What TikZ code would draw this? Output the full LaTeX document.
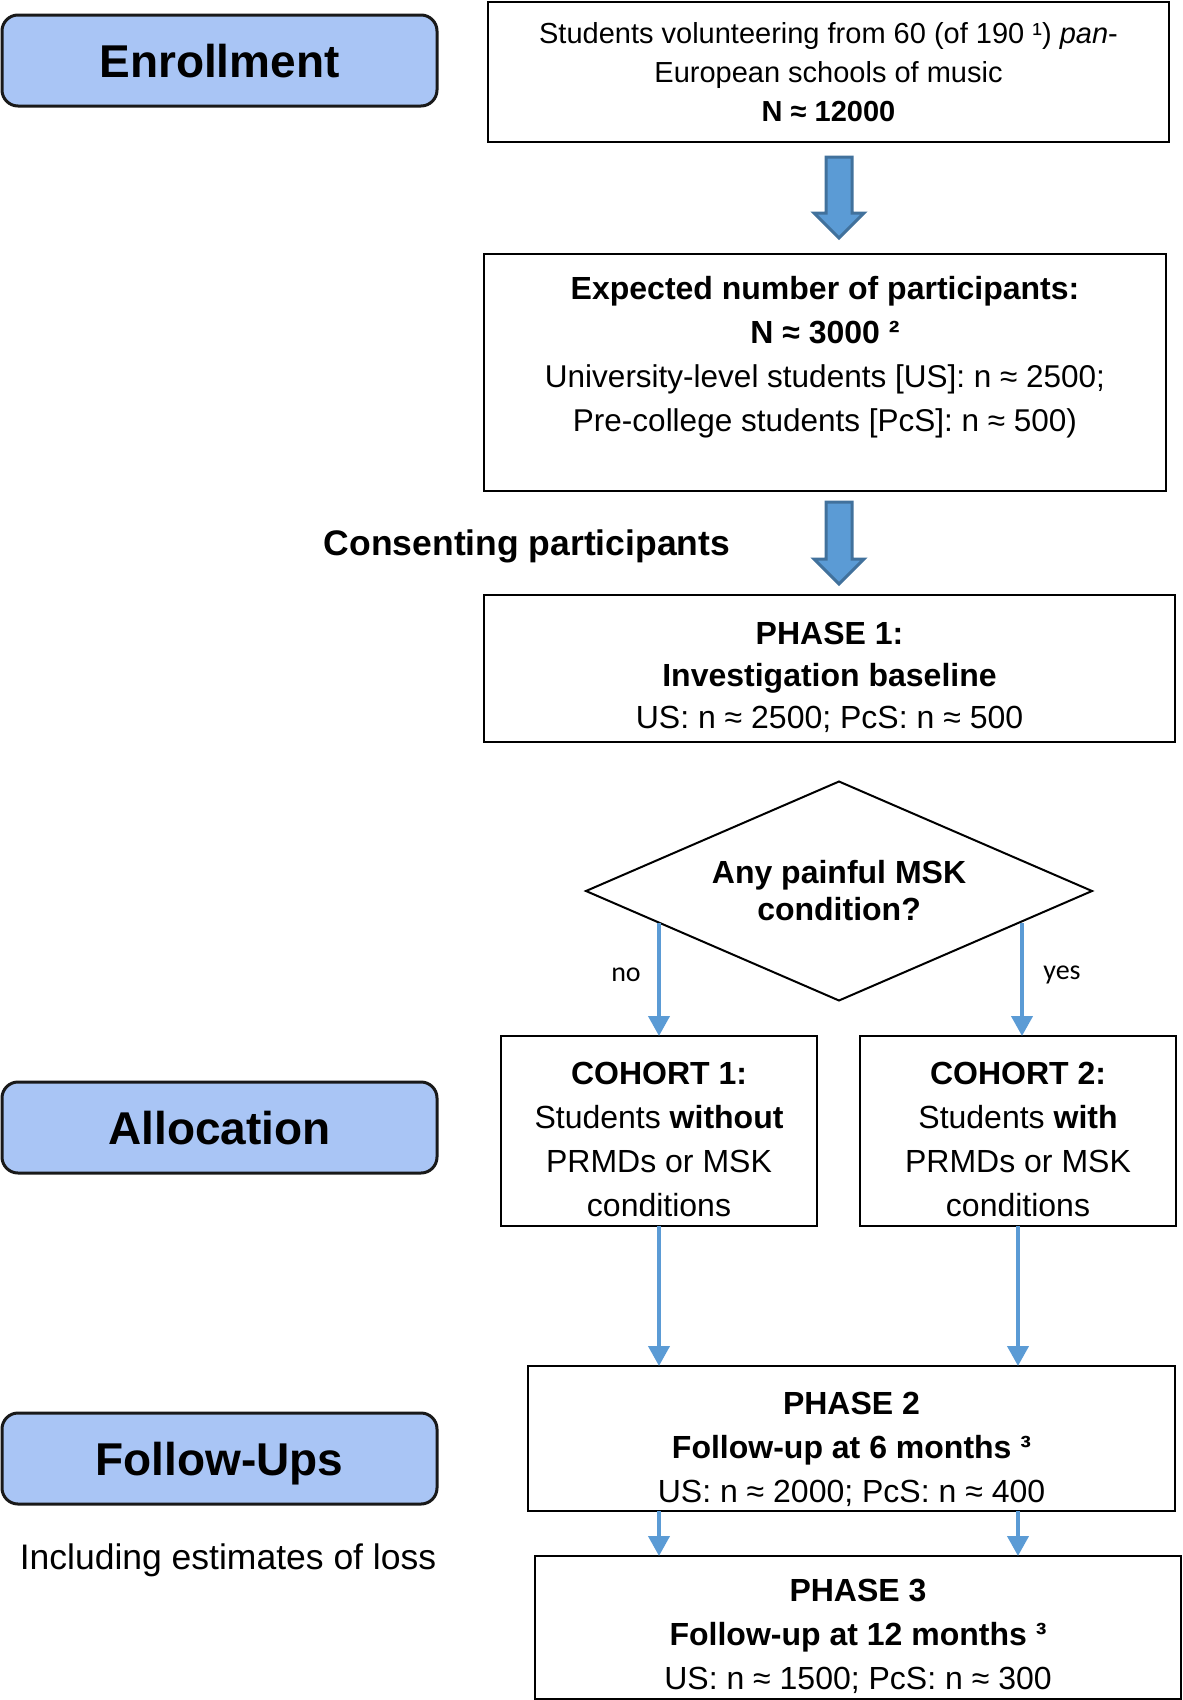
\documentclass[tikz,border=0pt]{standalone}
\usepackage{fontspec}
\setmainfont{Liberation Sans}
\newfontfamily\calfont{Carlito}
\usetikzlibrary{shapes.geometric,arrows.meta,calc}
\definecolor{lblue}{RGB}{169,197,245}
\definecolor{arrblue}{RGB}{91,155,213}
\definecolor{arrborder}{RGB}{65,113,156}
\newcommand{\fs}[2]{\fontsize{#1}{#2}\selectfont}
\newcommand{\blkarrow}[2]{\draw[blockarr] let \p1=(#1), \p2=(#2) in
  (\x1-13pt,\y1) -- (\x1+13pt,\y1) -- (\x1+13pt,\y2+25pt) -- (\x1+25pt,\y2+25pt)
  -- (\x1,\y2) -- (\x1-25pt,\y2+25pt) -- (\x1-13pt,\y2+25pt) -- cycle;}
\begin{document}
\begin{tikzpicture}[x=1pt,y=-1pt,
  every node/.style={outer sep=0pt},
  box/.style={draw=black, line width=2pt, inner sep=0pt, anchor=north west},
  lab/.style={draw=black!90, line width=3pt, fill=lblue, rounded corners=16pt, inner sep=0pt,
    anchor=north west, minimum width=435pt, minimum height=91pt,
    font=\bfseries\fs{46}{50}, text height=33pt, text depth=0pt},
  txt/.style={inner sep=0pt, align=center},
  thinarr/.style={draw=arrblue, line width=4pt, -{Triangle[width=21pt,length=20pt]}},
  blockarr/.style={fill=arrblue, draw=arrborder, line width=3pt, line join=miter},
  yn/.style={inner sep=0pt, font=\calfont\fs{28}{30}}
]
\useasboundingbox (0,0) rectangle (1183,1700);

% left stage labels
\node[lab] (enr) at (2,15) {Enrollment};
\node[lab] (alloc) at (2,1082) {Allocation};
\node[lab] (fol) at (2,1413) {Follow-Ups};
\node[txt, font=\fs{35.5}{40}] (incl) at (228,1560) {Including estimates of loss};

% main flow boxes
\node[box, minimum width=681pt, minimum height=140pt] (vol) at (488,2) {};
\node[txt, font=\fs{29}{39}] (voltxt) at (vol.center)
  {Students volunteering from 60 (of 190 ¹) \textit{pan}-\\European schools of music\\\textbf{N ≈ 12000}};

\node[box, minimum width=682pt, minimum height=237pt] (exp) at (484,254) {};
\node[txt, font=\fs{31.5}{44}] (exptxt) at (825,357)
  {\fs{32}{44}\textbf{Expected number of participants:}\\\fs{32}{44}\textbf{N ≈ 3000 ²}\\University-level students [US]: n ≈ 2500;\\Pre-college students [PcS]: n ≈ 500)};

\node[txt, font=\bfseries\fs{35.5}{40}] (cons) at (527,546) {Consenting participants};

\node[box, minimum width=691pt, minimum height=147pt] (ph1) at (484,595) {};
\node[txt, font=\fs{32}{42}] (ph1txt) at ($(ph1.center)+(0,9)$)
  {\textbf{PHASE 1:}\\\textbf{Investigation baseline}\\US: n ≈ 2500; PcS: n ≈ 500};

\node[draw=black, line width=2pt, diamond, shape aspect=2.31, minimum width=506pt,
  minimum height=219pt, inner sep=0pt, align=center, font=\bfseries\fs{32}{37}] (dia) at (839,891)
  {Any painful MSK\\condition?};

\node[box, minimum width=316pt, minimum height=190pt] (c1) at (501,1036) {};
\node[txt, font=\fs{32}{44}] (c1txt) at ($(c1.center)+(0,8)$)
  {\textbf{COHORT 1:}\\Students \textbf{without}\\PRMDs or MSK\\conditions};
\node[box, minimum width=316pt, minimum height=190pt] (c2) at (860,1036) {};
\node[txt, font=\fs{32}{44}] (c2txt) at ($(c2.center)+(0,8)$)
  {\textbf{COHORT 2:}\\Students \textbf{with}\\PRMDs or MSK\\conditions};

\node[box, minimum width=647pt, minimum height=145pt] (p2) at (528,1366) {};
\node[txt, font=\fs{32}{44}] (p2txt) at ($(p2.center)+(0,11)$)
  {\textbf{PHASE 2}\\\textbf{Follow-up at 6 months ³}\\US: n ≈ 2000; PcS: n ≈ 400};
\node[box, minimum width=646pt, minimum height=143pt] (p3) at (535,1556) {};
\node[txt, font=\fs{32}{44}] (p3txt) at ($(p3.center)+(0,9)$)
  {\textbf{PHASE 3}\\\textbf{Follow-up at 12 months ³}\\US: n ≈ 1500; PcS: n ≈ 300};

% block arrows
\coordinate (a1s) at (839,157);
\coordinate (a1e) at (839,238);
\coordinate (a2s) at (839,502);
\coordinate (a2e) at (839,584);
\blkarrow{a1s}{a1e}
\blkarrow{a2s}{a2e}

% decision arrows
\coordinate (noS) at (659,923);
\coordinate (yesS) at (1022,923);
\draw[thinarr] (noS) -- (noS |- c1.north);
\draw[thinarr] (yesS) -- (yesS |- c2.north);
\node[yn] (no) at (626,975) {no};
\node[yn] (yes) at (1062,975) {yes};

\draw[thinarr] (c1.south) -- (c1.south |- p2.north);
\draw[thinarr] (c2.south) -- (c2.south |- p2.north);
\draw[thinarr] (c1.south |- p2.south) -- (c1.south |- p3.north);
\draw[thinarr] (c2.south |- p2.south) -- (c2.south |- p3.north);
\end{tikzpicture}
\end{document}
